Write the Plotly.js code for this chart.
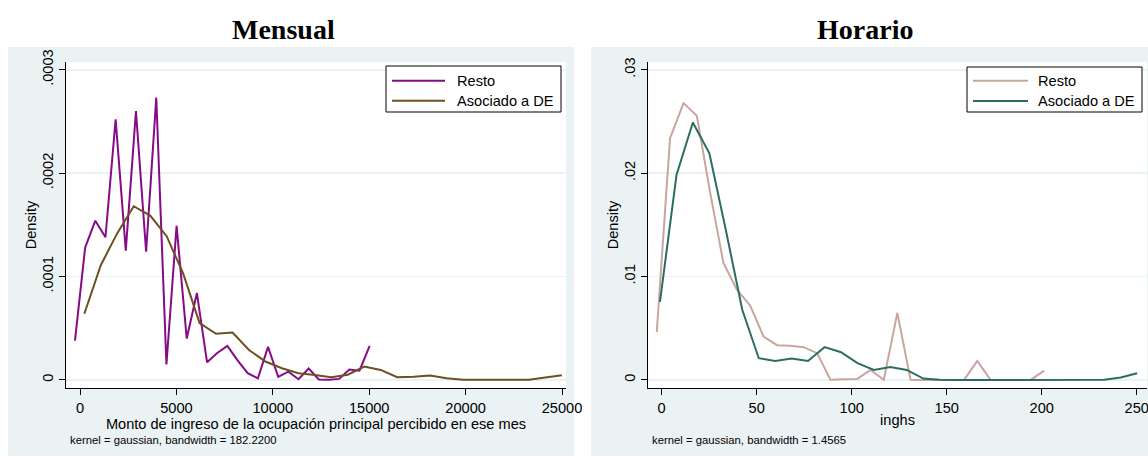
<!DOCTYPE html>
<html>
<head>
<meta charset="utf-8">
<script src="https://cdn.plot.ly/plotly-3.0.1.min.js"></script>
<style>html,body{margin:0;padding:0;background:#fff;}#chart{width:1148px;height:457px;}</style>
</head>
<body>
<div id="chart"></div>
<script>
// ---- Data ----
var panelTitles = ["Mensual", "Horario"];
var seriesNames = ["Resto", "Asociado a DE"];

var mensualRestoX = [-260, 267, 794, 1321, 1848, 2375, 2902, 3429, 3956, 4483, 5010, 5537, 6064, 6591, 7118, 7645, 8172, 8699, 9226, 9753, 10280, 10807, 11334, 11861, 12388, 12915, 13442, 13969, 14496, 15023];
var mensualRestoY = [0.000038, 0.000128, 0.000154, 0.000138, 0.000252, 0.000125, 0.000260, 0.000124, 0.000273, 0.000015, 0.000149, 0.000040, 0.000084, 0.000017, 0.000026, 0.000033, 0.000019, 0.0000065, 0.0000016, 0.000032, 0.000003, 0.000008, 0.0000007, 0.000011, 0.0000005, 0.0000002, 0.000001, 0.000010, 0.000009, 0.000033];

var mensualDEX = [225, 1079, 1933, 2787, 3641, 4495, 5349, 6203, 7057, 7911, 8765, 9619, 10473, 11327, 12181, 13035, 13889, 14743, 15597, 16451, 17305, 18159, 19013, 19867, 20721, 21575, 22429, 23283, 24137, 24991];
var mensualDEY = [0.000064, 0.000111, 0.000142, 0.000168, 0.000159, 0.000139, 0.000103, 0.000055, 0.0000446, 0.0000459, 0.000029, 0.0000178, 0.0000113, 0.0000065, 0.0000048, 0.0000026, 0.000005, 0.0000129, 0.0000097, 0.0000026, 0.0000032, 0.0000042, 0.0000016, 0.0000002, 0.0000001, 0.0000001, 0.0000001, 0.0000002, 0.0000023, 0.0000045];

var horarioRestoX = [-2.6, 4.4, 11.5, 18.5, 25.5, 32.5, 39.6, 46.6, 53.6, 60.7, 67.7, 74.7, 81.8, 88.8, 95.8, 102.9, 109.9, 116.9, 124.0, 131.0, 138.0, 145.0, 152.1, 159.1, 166.1, 173.1, 180.2, 187.2, 194.2, 201.3];
var horarioRestoY = [0.00463, 0.02338, 0.02677, 0.02554, 0.01811, 0.01132, 0.00873, 0.00718, 0.0042, 0.00336, 0.0033, 0.00317, 0.00259, 0.00002, 0.00007, 0.0001, 0.00097, 0.00001, 0.00647, 0.00001, 0, 0, 0, 0, 0.00184, 0, 0, 0, 0, 0.0009];

var horarioDEX = [-0.9, 7.8, 16.4, 25.1, 33.7, 42.4, 51.1, 59.7, 68.4, 77.0, 85.7, 94.4, 103.0, 111.7, 120.3, 129.0, 137.7, 146.3, 155.0, 163.7, 172.3, 181.0, 189.6, 198.3, 207.0, 215.6, 224.3, 232.9, 241.6, 250.2];
var horarioDEY = [0.00754, 0.01982, 0.0249, 0.02192, 0.01455, 0.00679, 0.0021, 0.00184, 0.00207, 0.00184, 0.00317, 0.00268, 0.00162, 0.00097, 0.00126, 0.00097, 0.00013, 0.00001, 0, 0, 0, 0, 0, 0, 0, 0, 0, 0.00001, 0.00023, 0.00065];

var mensualXTicks = [0, 5000, 10000, 15000, 20000, 25000];
var mensualXTickText = ["0", "5000", "10000", "15000", "20000", "25000"];
var mensualYTicks = [0, 0.0001, 0.0002, 0.0003];
var mensualYTickText = ["0", ".0001", ".0002", ".0003"];
var horarioXTicks = [0, 50, 100, 150, 200, 250];
var horarioXTickText = ["0", "50", "100", "150", "200", "250"];
var horarioYTicks = [0, 0.01, 0.02, 0.03];
var horarioYTickText = ["0", ".01", ".02", ".03"];

var mensualXTitle = "Monto de ingreso de la ocupación principal percibido en ese mes";
var horarioXTitle = "inghs";
var yTitle = "Density";
var mensualNote = "kernel = gaussian, bandwidth = 182.2200";
var horarioNote = "kernel = gaussian, bandwidth = 1.4565";

// ---- Styles ----
var W = 1148, H = 457;
var px = function (v) { return v / W; };
var py = function (v) { return 1 - v / H; };
var cPurple = "#870B87", cBrown = "#6B5020", cTan = "#C8A69D", cTeal = "#2B6E60";
var panelBg = "#EAF2F3";
var font = "Liberation Sans, Arial, sans-serif";
var fs = 14.6;

var traces = [
  {x: mensualRestoX, y: mensualRestoY, name: seriesNames[0], type: "scatter", mode: "lines", line: {color: cPurple, width: 2}, xaxis: "x", yaxis: "y", showlegend: false},
  {x: mensualDEX, y: mensualDEY, name: seriesNames[1], type: "scatter", mode: "lines", line: {color: cBrown, width: 2}, xaxis: "x", yaxis: "y", showlegend: false},
  {x: horarioRestoX, y: horarioRestoY, name: seriesNames[0], type: "scatter", mode: "lines", line: {color: cTan, width: 2}, xaxis: "x2", yaxis: "y2", showlegend: false},
  {x: horarioDEX, y: horarioDEY, name: seriesNames[1], type: "scatter", mode: "lines", line: {color: cTeal, width: 2}, xaxis: "x2", yaxis: "y2", showlegend: false}
];

var plotTop = 62, plotBottom = 388;
var L = {l: 66, r: 566}, R = {l: 648, r: 1147};

function xaxisDef(dom, range, tv, tt, title) {
  return {
    domain: dom, range: range, tickvals: tv, ticktext: tt, ticks: "outside", ticklen: 6, tickcolor: "#000", tickwidth: 1,
    showline: true, linecolor: "#000", linewidth: 1, showgrid: false, zeroline: false, fixedrange: true,
    tickfont: {family: font, size: fs, color: "#000"}, ticklabeloverflow: "allow",
    title: {text: title, font: {family: font, size: fs, color: "#000"}, standoff: 0},
    automargin: false
  };
}
function yaxisDef(range, tv, tt, anchor) {
  return {
    domain: [py(plotBottom), py(plotTop)], range: range, tickvals: tv, ticktext: tt, ticks: "outside", ticklen: 6, tickcolor: "#000", tickwidth: 1,
    tickangle: -90, showline: true, linecolor: "#000", linewidth: 1, showgrid: true, gridcolor: panelBg, gridwidth: 1.5,
    zeroline: false, fixedrange: true, anchor: anchor,
    tickfont: {family: font, size: fs, color: "#000"},
    title: {text: yTitle, font: {family: font, size: fs, color: "#000"}, standoff: 0},
    automargin: false
  };
}

var shapes = [
  {type: "rect", xref: "paper", yref: "paper", x0: px(8), x1: px(574), y0: py(456), y1: py(47), fillcolor: panelBg, line: {width: 0}, layer: "below"},
  {type: "rect", xref: "paper", yref: "paper", x0: px(591), x1: px(1148), y0: py(456), y1: py(47), fillcolor: panelBg, line: {width: 0}, layer: "below"},
  {type: "rect", xref: "paper", yref: "paper", x0: px(L.l), x1: px(L.r), y0: py(plotBottom), y1: py(plotTop), fillcolor: "#fff", line: {width: 0}, layer: "below"},
  {type: "rect", xref: "paper", yref: "paper", x0: px(R.l), x1: px(R.r), y0: py(plotBottom), y1: py(plotTop), fillcolor: "#fff", line: {width: 0}, layer: "below"},
  // legend boxes
  {type: "rect", xref: "paper", yref: "paper", x0: px(386), x1: px(561), y0: py(112), y1: py(66), fillcolor: "#fff", line: {color: "#000", width: 1}},
  {type: "line", xref: "paper", yref: "paper", x0: px(392), x1: px(445), y0: py(80.7), y1: py(80.7), line: {color: cPurple, width: 2}},
  {type: "line", xref: "paper", yref: "paper", x0: px(392), x1: px(445), y0: py(100.7), y1: py(100.7), line: {color: cBrown, width: 2}},
  {type: "rect", xref: "paper", yref: "paper", x0: px(967), x1: px(1142), y0: py(112), y1: py(67), fillcolor: "#fff", line: {color: "#000", width: 1}},
  {type: "line", xref: "paper", yref: "paper", x0: px(973), x1: px(1028), y0: py(80.7), y1: py(80.7), line: {color: cTan, width: 2}},
  {type: "line", xref: "paper", yref: "paper", x0: px(973), x1: px(1028), y0: py(101), y1: py(101), line: {color: cTeal, width: 2}}
];

var ann = function (text, x, y, size, xanchor, extra) {
  var a = {text: text, xref: "paper", yref: "paper", x: px(x), y: py(y), xanchor: xanchor, yanchor: "middle", showarrow: false,
    font: {family: font, size: size, color: "#000"}};
  if (extra) for (var k in extra) a[k] = extra[k];
  return a;
};
var serif = "Liberation Serif, Times New Roman, serif";
var annotations = [
  ann("<b>" + panelTitles[0] + "</b>", 283, 29, 28, "center", {font: {family: serif, size: 28, color: "#000"}}),
  ann("<b>" + panelTitles[1] + "</b>", 865, 29, 28, "center", {font: {family: serif, size: 28, color: "#000"}}),
  ann(seriesNames[0], 455, 80.7, fs, "left"),
  ann(seriesNames[1], 455, 100.7, fs, "left"),
  ann(seriesNames[0], 1036, 80.7, fs, "left"),
  ann(seriesNames[1], 1036, 101, fs, "left"),
  ann(mensualNote, 68, 440, 11.3, "left"),
  ann(horarioNote, 650, 440, 11.3, "left")
];

var layout = {
  width: W, height: H, margin: {l: 0, r: 0, t: 0, b: 0, pad: 0},
  paper_bgcolor: "#fff", plot_bgcolor: "rgba(0,0,0,0)", showlegend: false,
  xaxis: xaxisDef([px(L.l), px(L.r)], [-726, 25207], mensualXTicks, mensualXTickText, mensualXTitle),
  yaxis: yaxisDef([-0.0000078, 0.0003075], mensualYTicks, mensualYTickText, "x"),
  xaxis2: xaxisDef([px(R.l), px(R.r)], [-7.2, 255.4], horarioXTicks, horarioXTickText, horarioXTitle),
  yaxis2: yaxisDef([-0.00078, 0.03075], horarioYTicks, horarioYTickText, "x2"),
  shapes: shapes,
  annotations: annotations
};
layout.xaxis.anchor = "y";
layout.xaxis2.anchor = "y2";

Plotly.newPlot("chart", traces, layout, {displayModeBar: false, staticPlot: true});
</script>
</body>
</html>
